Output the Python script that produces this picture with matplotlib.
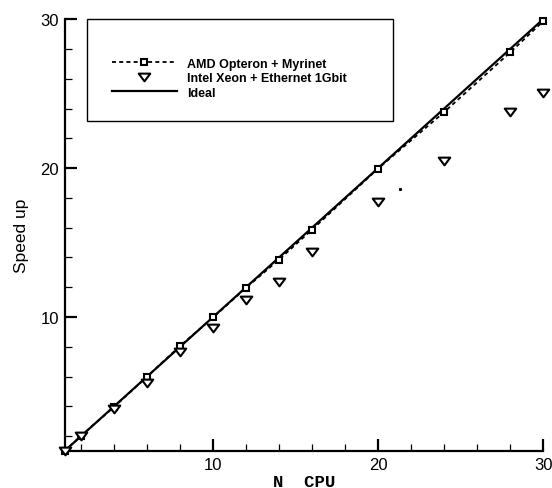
import numpy as np
import matplotlib.pyplot as plt
from matplotlib.path import Path
from matplotlib.patches import Rectangle
from matplotlib.ticker import MultipleLocator

# データ
n_cpu = [1, 2, 4, 6, 8, 10, 12, 14, 16, 20, 24, 28, 30]
amd_speedup = [1.0, 2.03, 3.96, 6.0, 8.06, 9.97, 11.96, 13.86, 15.87, 19.97, 23.76, 27.77, 29.86]
intel_speedup = [1.0, 2.0, 3.79, 5.57, 7.65, 9.27, 11.15, 12.36, 14.37, 17.70, 20.49, 23.74, 25.07]
ideal_x = [1, 30]
ideal_y = [1, 30]
stray_x = [21.3]
stray_y = [18.6]

labels = ['AMD Opteron + Myrinet', 'Intel Xeon + Ethernet 1Gbit', 'Ideal']

# 平たい下向き三角形
tri = Path([(-1, 0.67), (1, 0.67), (0, -0.67), (-1, 0.67)],
           [Path.MOVETO, Path.LINETO, Path.LINETO, Path.CLOSEPOLY])

fig = plt.figure(figsize=(5.52, 4.89), dpi=100)
ax = fig.add_axes([0.117, 0.0757, 0.867, 0.883])

l1, = ax.plot(n_cpu, amd_speedup, color='black', lw=1.3, ls=(0, (2.2, 1.8)),
              marker='s', ms=4.6, mew=1.5, mfc='white', mec='black', clip_on=False, zorder=3)
l2, = ax.plot(n_cpu, intel_speedup, ls='none', marker=tri, ms=8.3, mew=1.5,
              mfc='white', mec='black', clip_on=False, zorder=3)
l3, = ax.plot(ideal_x, ideal_y, color='black', lw=1.6, zorder=2)
ax.plot(stray_x, stray_y, ls='none', marker='s', ms=1.2, color='black')

ax.set_xlim(1, 30)
ax.set_ylim(1, 30)
ax.xaxis.set_major_locator(MultipleLocator(10))
ax.xaxis.set_minor_locator(MultipleLocator(2))
ax.yaxis.set_major_locator(MultipleLocator(10))
ax.yaxis.set_minor_locator(MultipleLocator(2))

for s in ['top', 'right']:
    ax.spines[s].set_visible(False)
for s in ['left', 'bottom']:
    ax.spines[s].set_linewidth(1.6)

ax.tick_params(which='major', direction='in', length=8.5, width=1.6, labelsize=12,
               pad=4, labelfontfamily='Liberation Sans')
ax.tick_params(which='minor', direction='in', length=5, width=0.9)

ax.set_xlabel('N  CPU', family='Liberation Mono', weight='bold', fontsize=12.5, labelpad=2)
ax.set_ylabel('Speed up', family='Liberation Sans', fontsize=12.5, labelpad=8)

# 凡例の枠
ax.add_patch(Rectangle((0.047, 0.764), 0.639, 0.236, transform=ax.transAxes,
                       fill=False, edgecolor='black', lw=1.0, clip_on=False, zorder=4))
ax.legend([l1, l2, l3], labels, loc='upper left', bbox_to_anchor=(0.099, 0.911),
          frameon=False, borderaxespad=0, borderpad=0, handlelength=5.2,
          handletextpad=0.8, labelspacing=0.2,
          prop={'family': 'Liberation Sans', 'weight': 'bold', 'size': 9})

plt.savefig('out.png', dpi=100)
